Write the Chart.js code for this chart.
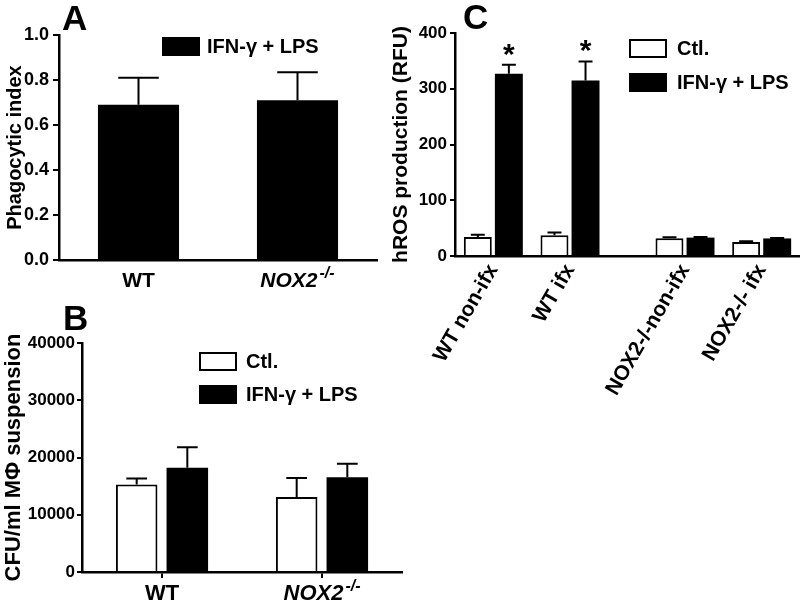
<!DOCTYPE html>
<html><head><meta charset="utf-8">
<script src="https://cdn.jsdelivr.net/npm/chart.js@4.4.1/dist/chart.umd.min.js"></script>
<style>
html,body{margin:0;padding:0;background:#fff;}
#wrap{position:relative;width:800px;height:601px;overflow:hidden;background:#fff;}
canvas{position:absolute;}
</style></head><body>
<div id="wrap">
<canvas id="cA" width="400" height="300" style="left:0px;top:0px"></canvas>
<canvas id="cB" width="410" height="301" style="left:0px;top:300px"></canvas>
<canvas id="cC" width="420" height="420" style="left:380px;top:0px"></canvas>
</div>
<script>
// ---------------- data ----------------
const genotypes = ['WT', 'NOX2'];
const genotypeSup = ['', '-/-'];
const seriesNames = ['Ctl.', 'IFN-γ + LPS'];

// Panel A: phagocytic index
const phagoIFN = [0.69, 0.71];
const phagoIFNErr = [0.12, 0.125];
const yTicksA = [0, 0.2, 0.4, 0.6, 0.8, 1.0];
const yTickLabelsA = ['0.0', '0.2', '0.4', '0.6', '0.8', '1.0'];

// Panel B: CFU/ml MΦ suspension
const cfuCtl = [15300, 13100];
const cfuCtlErr = [1050, 3300];
const cfuIFN = [18200, 16550];
const cfuIFNErr = [3600, 2350];
const yTicksB = [0, 10000, 20000, 30000, 40000];
const yTickLabelsB = ['0', '10000', '20000', '30000', '40000'];

// Panel C: hROS production (groups on a linear axis, gap between WT and NOX2)
const rosGroups = ['WT non-ifx', 'WT ifx', 'NOX2-/-non-ifx', 'NOX2-/- ifx'];
const rosGroupX = [0, 1, 2.5, 3.5];
const rosCtl = [34, 37, 32, 25];
const rosCtlErr = [4, 5, 1.5, 1.5];
const rosIFN = [327, 315, 33, 31.5];
const rosIFNErr = [16, 34, 1, 1];
const rosIFNStars = ['*', '*', '', ''];
const yTicksC = [0, 100, 200, 300, 400];
const yTickLabelsC = ['0', '100', '200', '300', '400'];

// ---------------- setup ----------------
const FONT = "'Liberation Sans', Arial, Helvetica, sans-serif";
Chart.defaults.font.family = FONT;
Chart.defaults.font.weight = 'bold';
Chart.defaults.color = '#000';
Chart.defaults.animation = false;
Chart.defaults.plugins.legend.display = false;
Chart.defaults.plugins.tooltip.enabled = false;

const errorBarPlugin = {
  id: 'errorBars',
  afterDatasetsDraw(chart) {
    const ctx = chart.ctx;
    const ys = chart.scales.y;
    chart.data.datasets.forEach((ds, di) => {
      if (!ds.errors) return;
      const meta = chart.getDatasetMeta(di);
      meta.data.forEach((bar, i) => {
        const d = ds.data[i];
        const val = (typeof d === 'object') ? d.y : d;
        const yTop = ys.getPixelForValue(val + ds.errors[i]);
        const half = bar.width / 4;
        ctx.save();
        ctx.strokeStyle = '#000';
        ctx.lineWidth = 2;
        ctx.beginPath();
        ctx.moveTo(bar.x, bar.y);
        ctx.lineTo(bar.x, yTop);
        ctx.moveTo(bar.x - half, yTop);
        ctx.lineTo(bar.x + half, yTop);
        ctx.stroke();
        if (ds.stars && ds.stars[i]) {
          ctx.fillStyle = '#000';
          ctx.font = 'bold 30px ' + FONT;
          ctx.textAlign = 'center';
          ctx.textBaseline = 'alphabetic';
          ctx.fillText(ds.stars[i], bar.x, yTop - 1);
        }
        ctx.restore();
      });
    });
  }
};

const boxLegendPlugin = {
  id: 'boxLegend',
  afterDraw(chart, args, opts) {
    if (!opts || opts.x == null) return;
    const ctx = chart.ctx;
    ctx.save();
    chart.data.datasets.forEach((ds, i) => {
      const x = opts.x, y = opts.y + i * opts.row;
      ctx.fillStyle = ds.backgroundColor;
      ctx.fillRect(x, y, opts.boxW, opts.boxH);
      ctx.strokeStyle = '#000';
      ctx.lineWidth = 2;
      ctx.strokeRect(x + 1, y + 1, opts.boxW - 2, opts.boxH - 2);
      ctx.fillStyle = '#000';
      ctx.font = 'bold ' + opts.size + 'px ' + FONT;
      ctx.textAlign = 'left';
      ctx.textBaseline = 'middle';
      ctx.fillText(ds.label, x + opts.boxW + opts.gap, y + opts.boxH / 2 + 1);
    });
    ctx.restore();
  }
};

const panelLetterPlugin = {
  id: 'panelLetter',
  afterDraw(chart, args, opts) {
    if (!opts || !opts.text) return;
    const ctx = chart.ctx;
    ctx.save();
    ctx.fillStyle = '#000';
    ctx.font = 'bold 35px ' + FONT;
    ctx.textAlign = 'left';
    ctx.textBaseline = 'alphabetic';
    ctx.fillText(opts.text, opts.x, opts.y);
    ctx.restore();
  }
};

const genoLabelPlugin = {
  id: 'genoLabels',
  afterDraw(chart, args, opts) {
    if (!opts || !opts.sups) return;
    const ctx = chart.ctx, xs = chart.scales.x;
    const base = chart.chartArea.bottom + opts.dy;
    ctx.save();
    ctx.fillStyle = '#000';
    ctx.textAlign = 'left';
    ctx.textBaseline = 'alphabetic';
    chart.data.labels.forEach((lab, i) => {
      const s = opts.sups[i] || '';
      const f = (s ? 'italic bold ' : 'bold ') + opts.size + 'px ' + FONT;
      const sf = 'italic bold ' + opts.supSize + 'px ' + FONT;
      ctx.font = f;
      const w1 = ctx.measureText(lab).width;
      ctx.font = sf;
      const w2 = s ? ctx.measureText(s).width + 2 : 0;
      const x0 = xs.getPixelForValue(i) - (w1 + w2) / 2;
      ctx.font = f;
      ctx.fillText(lab, x0, base);
      if (s) {
        ctx.font = sf;
        ctx.fillText(s, x0 + w1 + 2, base - opts.raise);
      }
    });
    ctx.restore();
  }
};

const plugins = [errorBarPlugin, boxLegendPlugin, panelLetterPlugin, genoLabelPlugin];

function yScale(ticks, labels, width, fontSize, tickLen, pad, title, titleSize, titlePad) {
  return {
    min: ticks[0], max: ticks[ticks.length - 1],
    afterBuildTicks: s => { s.ticks = ticks.map(v => ({ value: v })); },
    afterFit: s => { s.width = width; },
    ticks: { callback: (v, i) => labels[i], font: { size: fontSize, weight: 'bold' }, padding: pad, color: '#000' },
    grid: { display: true, drawOnChartArea: false, drawTicks: true, tickLength: tickLen, color: '#000', lineWidth: 2 },
    border: { display: true, color: '#000', width: 2.5 },
    title: { display: true, text: title, color: '#000', font: { size: titleSize, weight: 'bold' }, padding: { top: titlePad, bottom: 0 } }
  };
}

// ---------------- Panel A ----------------
new Chart(document.getElementById('cA'), {
  type: 'bar',
  data: {
    labels: genotypes,
    datasets: [{
      label: seriesNames[1], data: phagoIFN, errors: phagoIFNErr,
      backgroundColor: '#000', borderColor: '#000', borderWidth: 0,
      categoryPercentage: 0.51, barPercentage: 1
    }]
  },
  options: {
    responsive: false,
    layout: { padding: { left: 0, top: 35, right: 23, bottom: 0 } },
    scales: {
      x: {
        afterFit: s => { s.height = 40; },
        ticks: { display: false },
        grid: { display: false, drawTicks: false },
        border: { display: true, color: '#000', width: 2.5 }
      },
      y: yScale(yTicksA, yTickLabelsA, 59, 18, 6, 4, 'Phagocytic index', 20, 3)
    },
    plugins: {
      boxLegend: { x: 162, y: 37, row: 33, boxW: 38, boxH: 19, gap: 7, size: 20 },
      panelLetter: { text: 'A', x: 62, y: 30 },
      genoLabels: { sups: genotypeSup, dy: 27, size: 21, supSize: 16, raise: 9 }
    }
  },
  plugins: plugins
});

// ---------------- Panel B ----------------
new Chart(document.getElementById('cB'), {
  type: 'bar',
  data: {
    labels: genotypes,
    datasets: [
      { label: seriesNames[0], data: cfuCtl, errors: cfuCtlErr,
        backgroundColor: '#fff', borderColor: '#000', borderWidth: 2,
        categoryPercentage: 0.633, barPercentage: 0.82 },
      { label: seriesNames[1], data: cfuIFN, errors: cfuIFNErr,
        backgroundColor: '#000', borderColor: '#000', borderWidth: 0,
        categoryPercentage: 0.633, barPercentage: 0.82 }
    ]
  },
  options: {
    responsive: false,
    layout: { padding: { left: 0, top: 43, right: 8, bottom: 0 } },
    scales: {
      x: {
        afterFit: s => { s.height = 29; },
        ticks: { display: false },
        grid: { display: true, drawOnChartArea: false, drawTicks: true, tickLength: 6, offset: false, color: '#000', lineWidth: 2 },
        border: { display: true, color: '#000', width: 2.5 }
      },
      y: yScale(yTicksB, yTickLabelsB, 82, 17, 5, 2, 'CFU/ml MΦ suspension', 22, 1)
    },
    plugins: {
      boxLegend: { x: 199, y: 52, row: 33, boxW: 38, boxH: 19, gap: 9, size: 20 },
      panelLetter: { text: 'B', x: 63, y: 30 },
      genoLabels: { sups: genotypeSup, dy: 28, size: 22, supSize: 16, raise: 9 }
    }
  },
  plugins: plugins
});

// ---------------- Panel C ----------------
new Chart(document.getElementById('cC'), {
  type: 'bar',
  data: {
    datasets: [
      { label: seriesNames[0], data: rosGroupX.map((x, i) => ({ x: x, y: rosCtl[i] })), errors: rosCtlErr,
        backgroundColor: '#fff', borderColor: '#000', borderWidth: 2,
        categoryPercentage: 0.81, barPercentage: 0.9 },
      { label: seriesNames[1], data: rosGroupX.map((x, i) => ({ x: x, y: rosIFN[i] })), errors: rosIFNErr, stars: rosIFNStars,
        backgroundColor: '#000', borderColor: '#000', borderWidth: 0,
        categoryPercentage: 0.81, barPercentage: 0.9 }
    ]
  },
  options: {
    responsive: false,
    layout: { padding: { left: 0, top: 33, right: 0, bottom: 0 } },
    scales: {
      x: {
        type: 'linear', min: -0.5, max: 4.0, offset: false,
        afterBuildTicks: s => { s.ticks = rosGroupX.map(v => ({ value: v })); },
        afterFit: s => { s.height = 164; },
        ticks: { callback: (v, i) => rosGroups[i], autoSkip: false, minRotation: 60, maxRotation: 60,
                 font: { size: 21, weight: 'bold' }, padding: 4, color: '#000' },
        grid: { display: false, drawTicks: false, offset: false },
        border: { display: true, color: '#000', width: 2.5 }
      },
      y: yScale(yTicksC, yTickLabelsC, 75, 17, 5, 3, 'hROS production (RFU)', 21, 9)
    },
    plugins: {
      boxLegend: { x: 249, y: 39, row: 34, boxW: 38, boxH: 19, gap: 10, size: 20 },
      panelLetter: { text: 'C', x: 83, y: 29 }
    }
  },
  plugins: plugins
});
</script>
</body></html>
